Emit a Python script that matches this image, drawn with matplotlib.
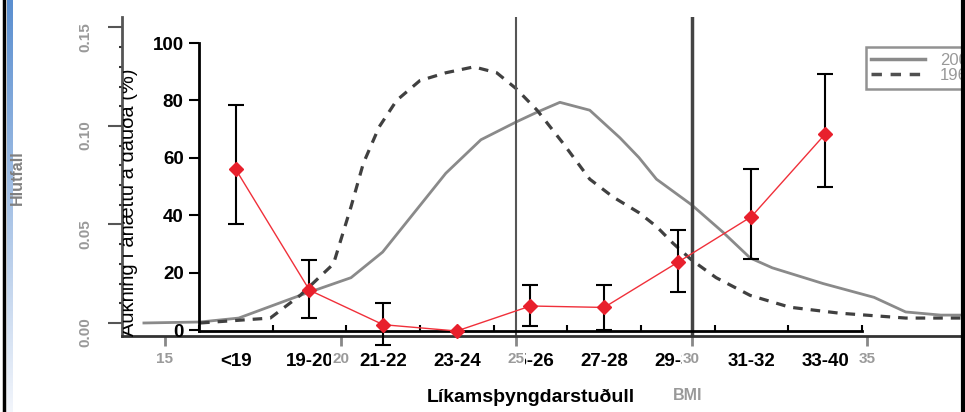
import numpy as np
import matplotlib.pyplot as plt
from matplotlib.lines import Line2D
from matplotlib.transforms import blended_transform_factory, Bbox, TransformedBbox
from matplotlib.colors import LinearSegmentedColormap

plt.rcParams['font.family'] = ['Liberation Sans', 'DejaVu Sans']

# background density curves (BMI vs share)
bmi_solid = [14.4, 16.0, 17.1, 18.85, 20.3, 21.2, 22.1, 23.0, 24.0, 25.0, 25.6, 26.25,
             27.1, 27.96, 28.5, 29.0, 30.0, 30.9, 31.67, 32.3, 33.75, 35.2, 36.1, 37.1, 38.5]
dens_solid = [0.0, 0.0005, 0.0025, 0.014, 0.023, 0.036, 0.056, 0.076, 0.093, 0.102, 0.107, 0.112,
              0.108, 0.094, 0.084, 0.073, 0.060, 0.046, 0.033, 0.028, 0.020, 0.013, 0.0056, 0.004, 0.004]
bmi_dash = [16.0, 18.0, 18.85, 19.8, 20.3, 20.65, 21.1, 21.6, 22.26, 23.0, 23.8, 24.45, 25.0,
            25.6, 26.35, 27.1, 27.76, 28.5, 29.0, 29.47, 30.0, 30.7, 31.67, 32.8, 34.2, 36.1, 38.5]
dens_dash = [0.0, 0.0025, 0.014, 0.030, 0.059, 0.081, 0.0995, 0.113, 0.123, 0.127, 0.130, 0.127, 0.119,
             0.108, 0.091, 0.073, 0.064, 0.056, 0.049, 0.0405, 0.032, 0.023, 0.014, 0.008, 0.005, 0.0025, 0.0025]
legend_labels = ['2007', '1967']
bg_xticks = [15, 20, 25, 30, 35]
bg_yticks = [0.00, 0.05, 0.10, 0.15]

# foreground: risk increase by BMI group
groups = ['<19', '19-20', '21-22', '23-24', '25-26', '27-28', '29-30', '31-32', '33-40']
risk = [56, 14, 2, -0.2, 8.5, 8, 23.7, 39.6, 68.3]
risk_low = [37, 4.3, -5, None, 1.6, 0, 13.4, 25, 49.8]
risk_high = [78.3, 24.5, 9.7, None, 15.8, 15.8, 35, 56, 89.2]

fig = plt.figure(figsize=(9.65, 4.12), dpi=100)

# frame decorations
fig.add_artist(Line2D([0.0045, 0.0045], [0, 1], color='black', lw=2.5, transform=fig.transFigure))
fig.add_artist(Line2D([0.9975, 0.9975], [0, 1], color='black', lw=3, transform=fig.transFigure, zorder=10))
grad = np.linspace(1, 0, 200).reshape(-1, 1)
gax = fig.add_axes([0.0068, 0, 0.0058, 1])
gax.imshow(grad, aspect='auto', cmap=LinearSegmentedColormap.from_list('b', ['#f2f5fb', '#5b8fd0']),
           extent=[0, 1, 0, 1])
gax.axis('off')

# ---- background chart ----
ax_bg = fig.add_axes([0.1264, 0.1845, 1.173, 0.7742])
ax_bg.plot(bmi_solid, dens_solid, color='#8a8a8a', lw=2)
ax_bg.plot(bmi_dash, dens_dash, color='#404040', lw=2.3, ls=(0, (3, 2.5)))
ax_bg.axvline(25, color='#555555', lw=1.5)
ax_bg.axvline(30, color='#444444', lw=2.5)
ax_bg.set_xlim(13.775, 46.02)
ax_bg.set_ylim(-0.0066, 0.1553)
ax_bg.set_xticks(bg_xticks)
ax_bg.set_yticks(bg_yticks)
ax_bg.set_yticks(np.arange(0, 0.155, 0.01), minor=True)
ax_bg.set_yticklabels(['%.2f' % v for v in bg_yticks])
ax_bg.tick_params(axis='x', length=7, width=2, color='#888888', labelbottom=False)
ax_bg.tick_params(axis='y', length=10, width=1.5, color='#555555', labelrotation=90,
                  labelcolor='#999999', labelsize=11, pad=11)
ax_bg.tick_params(axis='y', which='minor', length=2, width=1.5, color='#333333')
for lbl in ax_bg.get_yticklabels():
    lbl.set_fontweight('bold')
for s in ['top', 'right']:
    ax_bg.spines[s].set_visible(False)
ax_bg.spines['left'].set_color('#555555')
ax_bg.spines['left'].set_linewidth(2)
ax_bg.spines['bottom'].set_color('#333333')
ax_bg.spines['bottom'].set_linewidth(2)
ax_bg.set_ylabel('Hlutfall', color='#808080', fontsize=11.5, fontweight='bold')
ax_bg.yaxis.set_label_coords(-0.0857, 0.495)
ax_bg.set_xlabel('BMI', color='#999999', fontsize=11.5, fontweight='bold')
ax_bg.xaxis.set_label_coords(0.5, -0.163)
handles = [Line2D([], [], color='#8a8a8a', lw=2.5), Line2D([], [], color='#505050', lw=2.5, ls=(0, (3, 2.5)))]
leg = ax_bg.legend(handles, legend_labels, loc='upper left', bbox_to_anchor=(0.657, 0.906),
                   fontsize=12, frameon=True, fancybox=False, handlelength=3.2, borderpad=0.35,
                   labelspacing=0.0, borderaxespad=0, handletextpad=0.9)
leg.get_frame().set_edgecolor('#777777')
leg.get_frame().set_linewidth(1.8)
for t in leg.get_texts():
    t.set_color('#999999')

# ---- foreground chart ----
ax = fig.add_axes([0.2062, 0.1966, 0.687, 0.699])
ax.patch.set_alpha(0)
x = np.arange(len(groups))
for i in range(len(groups)):
    if risk_low[i] is None:
        continue
    ax.errorbar(x[i], risk[i], yerr=[[risk[i] - risk_low[i]], [risk_high[i] - risk[i]]],
                fmt='none', ecolor='black', elinewidth=1.5, capsize=5.5, capthick=1.5,
                clip_on=False, zorder=2)
ax.plot(x, risk, color='#f0303a', lw=1, marker='D', markersize=7, markerfacecolor='#e8202c',
        markeredgecolor='#e8202c', clip_on=False, zorder=3)
ax.set_xlim(-0.5, len(groups) - 0.5)
ax.set_ylim(-0.2, 100)
ax.set_yticks([0, 20, 40, 60, 80, 100])
ax.set_xticks(x)
ax.set_xticklabels(groups)
ax.set_xticks(np.arange(-0.5, len(groups)), minor=True)
ax.tick_params(axis='x', which='major', length=0, pad=16, labelsize=13.5)
ax.tick_params(axis='x', which='minor', length=4, width=1.5, direction='in')
ax.tick_params(axis='y', length=7, width=1.5, labelsize=13.5, pad=4)
for lbl in ax.get_xticklabels() + ax.get_yticklabels():
    lbl.set_fontweight('bold')
for s in ['top', 'right']:
    ax.spines[s].set_visible(False)
ax.spines['left'].set_linewidth(2)
ax.spines['bottom'].set_linewidth(2)
ax.set_xlabel('Líkamsþyngdarstuðull', fontsize=14, fontweight='bold')
ax.xaxis.set_label_coords(0.5, -0.2)

# y label, its left part hidden behind the background chart's axis
ylab = fig.text(128 / 965, 1 - 202 / 412, 'Aukning í áhættu á dauða (%)', rotation=90,
                ha='center', va='center', fontsize=14.5, color='black', zorder=4)
ylab.set_clip_box(TransformedBbox(Bbox([[123 / 965, 0], [1, 1]]), fig.transFigure))
ylab.set_clip_on(True)

# background BMI tick labels sit on top of the category labels
tr = blended_transform_factory(ax_bg.transData, fig.transFigure)
for v in bg_xticks:
    fig.text(v, 0.1286, str(v), transform=tr, ha='center', va='center', color='#9a9a9a',
             fontsize=11, fontweight='bold',
             bbox=dict(facecolor='white', edgecolor='none', pad=0.5), zorder=5)

fig.savefig('out.png', dpi=100)
